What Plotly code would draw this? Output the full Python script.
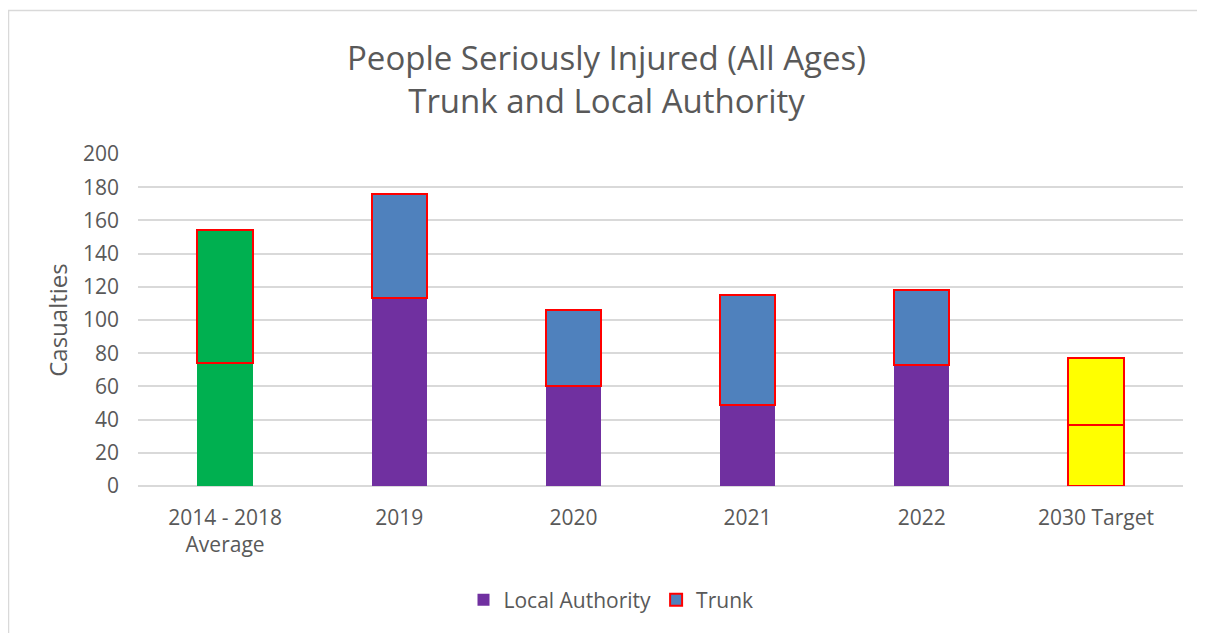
import plotly.graph_objects as go

categories = ["2014 - 2018<br>Average", "2019", "2020", "2021", "2022", "2030 Target"]
local_authority = [74, 113, 60, 49, 73, 37]
trunk = [80, 63, 46, 66, 45, 40]
y_ticks = [0, 20, 40, 60, 80, 100, 120, 140, 160, 180, 200]

PURPLE = "#7030A0"
BLUE = "#4F81BD"
GREEN = "#00B050"
YELLOW = "#FFFF00"
RED = "#FF0000"

la_colors = [GREEN, PURPLE, PURPLE, PURPLE, PURPLE, YELLOW]
la_line_w = [0, 0, 0, 0, 0, 2]
tr_colors = [GREEN, BLUE, BLUE, BLUE, BLUE, YELLOW]

fig = go.Figure()
fig.add_trace(go.Bar(x=categories, y=local_authority, name="Local Authority",
                     marker=dict(color=la_colors, line=dict(color=RED, width=la_line_w)),
                     width=0.317, showlegend=False))
fig.add_trace(go.Bar(x=categories, y=trunk, name="Trunk",
                     marker=dict(color=tr_colors, line=dict(color=RED, width=2)),
                     width=0.317, showlegend=False))
# legend entries
fig.add_trace(go.Bar(x=[categories[0]], y=[None], name="Local Authority",
                     marker=dict(color=PURPLE, line=dict(width=0))))
fig.add_trace(go.Bar(x=[categories[0]], y=[None], name="Trunk",
                     marker=dict(color=BLUE, line=dict(color=RED, width=2))))

# page has an 8px body margin; figure coords = page coords - 8
OFF = 8
W, H = 1197, 625
L, R, T, B = 130, 22, 146, 147
pw, ph = W - L - R, H - T - B

def px_x(p):  # page pixel -> paper
    return (p - OFF - L) / pw

def px_y(p):
    return (H - B - (p - OFF)) / ph

fig.update_layout(
    width=W, height=H,
    barmode="stack",
    margin=dict(l=L, r=R, t=T, b=B),
    paper_bgcolor="white", plot_bgcolor="white",
    font=dict(family="Open Sans", color="#595959", size=21),
    title=dict(text="People Seriously Injured (All Ages)<br>Trunk and Local Authority",
               x=0.5, xanchor="center", y=1 - (70 - OFF) / H, yanchor="middle",
               font=dict(size=33, color="#595959")),
    xaxis=dict(showgrid=False, showline=False, ticks="", tickfont=dict(size=21),
               ticklabelstandoff=17),
    yaxis=dict(range=[0, 200], tickvals=y_ticks, showgrid=True, gridcolor="#D9D9D9",
               gridwidth=1.5, zeroline=True, zerolinecolor="#D9D9D9", zerolinewidth=1.5,
               showline=False, ticks="", tickfont=dict(size=21), ticklabelstandoff=18,
               title=dict(text="Casualties", font=dict(size=24), standoff=8)),
    legend=dict(orientation="h", x=px_x(611), xanchor="center", y=px_y(600), yanchor="middle",
                font=dict(size=21), traceorder="normal"),
    bargap=0.68,
    shapes=[dict(type="rect", xref="paper", yref="paper",
                 x0=px_x(8.5), x1=px_x(1230), y0=px_y(680), y1=px_y(10.5),
                 line=dict(color="#D9D9D9", width=1.5), fillcolor="rgba(0,0,0,0)", layer="below")],
)

fig.write_html("out.html")
